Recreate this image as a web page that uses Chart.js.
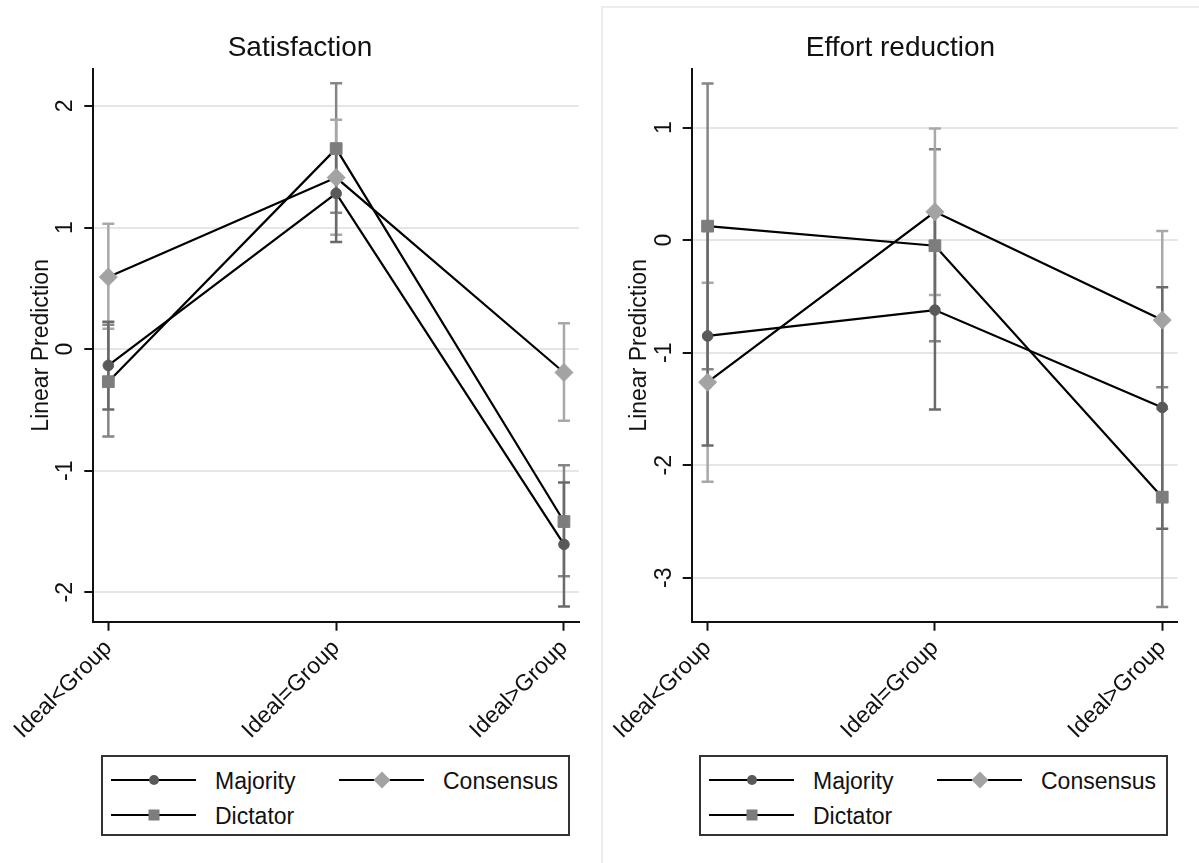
<!DOCTYPE html>
<html>
<head>
<meta charset="utf-8">
<script src="https://cdn.jsdelivr.net/npm/chart.js@4.4.1/dist/chart.umd.min.js"></script>
<style>
  html, body { margin: 0; padding: 0; background: #fff; }
  body { width: 1199px; height: 863px; position: relative; overflow: hidden; font-family: "Liberation Sans", Arial, sans-serif; }
  .panel { position: absolute; top: 0; }
  #leftPanel { left: 0; width: 600px; height: 863px; }
  #rightFrame { position: absolute; left: 601px; top: 6px; width: 640px; height: 900px; border-left: 2px solid #ececec; border-top: 2px solid #ececec; }
  #rightPanel { left: 602px; width: 597px; height: 863px; }
  canvas { position: absolute; left: 0; top: 0; }
  .legend { position: absolute; top: 755px; width: 465px; height: 77px; border: 2px solid #333; background: #fff; }
  .item { position: absolute; height: 30px; }
  .item svg { position: absolute; left: 0; top: 0; }
  .item span { position: absolute; left: 104px; top: 1px; font-size: 23px; color: #111; white-space: nowrap; line-height: 28px; }
</style>
</head>
<body>
<div id="rightFrame"></div>
<div class="panel" id="leftPanel"><canvas id="c1" width="600" height="750"></canvas>
  <div class="legend" id="leg1" style="left:101px;"></div>
</div>
<div class="panel" id="rightPanel"><canvas id="c2" width="597" height="750"></canvas>
  <div class="legend" id="leg2" style="left:97px;"></div>
</div>
<script>
// ---- data ----
const categories = ['Ideal<Group', 'Ideal=Group', 'Ideal>Group'];
const seriesNames = ['Majority', 'Consensus', 'Dictator'];

// Satisfaction panel
const satMajority     = [-0.134, 1.281, -1.606];
const satMajorityLo   = [-0.496, 0.882, -2.117];
const satMajorityHi   = [0.225, 1.680, -1.098];
const satConsensus    = [0.593, 1.411, -0.192];
const satConsensusLo  = [0.167, 0.940, -0.590];
const satConsensusHi  = [1.031, 1.886, 0.213];
const satDictator     = [-0.268, 1.649, -1.418];
const satDictatorLo   = [-0.718, 1.122, -1.868];
const satDictatorHi   = [0.200, 2.187, -0.955];
const satTicks = [-2, -1, 0, 1, 2];

// Effort reduction panel
const effMajority     = [-0.851, -0.621, -1.486];
const effMajorityLo   = [-1.824, -1.505, -2.564];
const effMajorityHi   = [0.120, 0.260, -0.417];
const effConsensus    = [-1.262, 0.253, -0.710];
const effConsensusLo  = [-2.146, -0.486, -1.500];
const effConsensusHi  = [-0.378, 0.993, 0.082];
const effDictator     = [0.125, -0.049, -2.284];
const effDictatorLo   = [-1.147, -0.897, -3.260];
const effDictatorHi   = [1.394, 0.809, -1.308];
const effTicks = [-3, -2, -1, 0, 1];

// ---- styles ----
const FONT = '"Liberation Sans", Arial, sans-serif';
const markerColor = { Majority: '#595959', Consensus: '#a3a3a3', Dictator: '#7d7d7d' };
const barColor    = { Majority: '#6a6a6a', Consensus: '#a8a8a8', Dictator: '#858585' };
const markerStyle = { Majority: 'circle', Consensus: 'rectRot', Dictator: 'rect' };
const markerRadius = { Majority: 5.3, Consensus: 9, Dictator: 8.3 };

function buildDatasets(series) {
  const lines = [];
  const bars = [];
  series.forEach(s => {
    lines.push({
      label: s.name,
      data: s.vals.map((v, i) => ({ x: i, y: v })),
      borderColor: '#000',
      borderWidth: 2.2,
      pointStyle: markerStyle[s.name],
      pointRadius: markerRadius[s.name],
      pointBackgroundColor: markerColor[s.name],
      pointBorderColor: markerColor[s.name],
      pointBorderWidth: 1,
      tension: 0
    });
    const d = [];
    s.lo.forEach((lo, i) => {
      d.push({ x: i, y: lo }, { x: i, y: s.hi[i] }, { x: i, y: null });
    });
    bars.push({
      label: s.name + ' CI',
      data: d,
      borderColor: barColor[s.name],
      borderWidth: 2.5,
      spanGaps: false,
      pointStyle: 'line',
      pointRadius: 6,
      pointBorderWidth: 2.5,
      pointBorderColor: barColor[s.name],
      pointBackgroundColor: barColor[s.name]
    });
  });
  return lines.concat(bars); // lines first => drawn on top
}

function makeChart(id, title, series, yTicks, yMin, yMax, xMin, xMax, yAxisWidth, padRight, plotBottom, canvasH, yTitlePad) {
  const ctx = document.getElementById(id);
  return new Chart(ctx, {
    type: 'line',
    data: { datasets: buildDatasets(series) },
    options: {
      responsive: false,
      animation: false,
      devicePixelRatio: 1,
      layout: { padding: 0 },
      plugins: {
        legend: { display: false },
        tooltip: { enabled: false },
        title: {
          display: true,
          text: title,
          color: '#111',
          font: { family: FONT, size: 28, weight: 'normal' },
          padding: { top: 31, bottom: 4.4 }
        }
      },
      scales: {
        x: {
          type: 'linear',
          min: xMin, max: xMax,
          afterBuildTicks: (sc) => { sc.ticks = categories.map((c, i) => ({ value: i })); },
          afterFit: (sc) => { sc.height = canvasH - plotBottom; sc.paddingLeft = 0; sc.paddingRight = padRight; },
          ticks: {
            autoSkip: false,
            minRotation: 45, maxRotation: 45,
            padding: 4,
            color: '#111',
            font: { family: FONT, size: 23 },
            callback: (v) => categories[v]
          },
          grid: { drawOnChartArea: false, drawTicks: true, tickLength: 9, tickColor: '#111', tickWidth: 2 },
          border: { display: true, color: '#111', width: 2 }
        },
        y: {
          type: 'linear',
          min: yMin, max: yMax,
          afterBuildTicks: (sc) => { sc.ticks = yTicks.map(v => ({ value: v })); },
          afterFit: (sc) => { sc.width = yAxisWidth; sc.paddingTop = 0; sc.paddingBottom = 0; },
          ticks: {
            minRotation: 90, maxRotation: 90,
            crossAlign: 'center',
            padding: 8,
            color: '#111',
            font: { family: FONT, size: 23 },
            callback: (v) => String(v)
          },
          grid: { color: '#e6e6e6', lineWidth: 2, drawTicks: true, tickLength: 9, tickColor: '#111', tickWidth: 2 },
          border: { display: true, color: '#111', width: 2 },
          title: {
            display: true,
            text: 'Linear Prediction',
            color: '#111',
            font: { family: FONT, size: 23 },
            padding: { top: yTitlePad, bottom: 0 }
          }
        }
      }
    }
  });
}

makeChart('c1', 'Satisfaction', [
  { name: 'Majority', vals: satMajority, lo: satMajorityLo, hi: satMajorityHi },
  { name: 'Consensus', vals: satConsensus, lo: satConsensusLo, hi: satConsensusHi },
  { name: 'Dictator', vals: satDictator, lo: satDictatorLo, hi: satDictatorHi }
], satTicks, -2.242, 2.304, -0.066, 2.066, 93.3, 21, 621.7, 750, 28);

makeChart('c2', 'Effort reduction', [
  { name: 'Majority', vals: effMajority, lo: effMajorityLo, hi: effMajorityHi },
  { name: 'Consensus', vals: effConsensus, lo: effConsensusLo, hi: effConsensusHi },
  { name: 'Dictator', vals: effDictator, lo: effDictatorLo, hi: effDictatorHi }
], effTicks, -3.391, 1.522, -0.070, 2.068, 89.7, 21.3, 621.7, 750, 24);

// ---- legends (HTML) ----
function markerSvg(name) {
  const c = markerColor[name];
  let m = '';
  if (name === 'Majority') m = `<circle cx="43" cy="14" r="5" fill="${c}"/>`;
  else if (name === 'Consensus') m = `<polygon points="43,5.5 51.5,14 43,22.5 34.5,14" fill="${c}"/>`;
  else m = `<rect x="37.5" y="8.5" width="11" height="11" fill="${c}"/>`;
  return `<svg width="90" height="28"><line x1="0" y1="14" x2="85" y2="14" stroke="#000" stroke-width="2.2"/>${m}</svg>`;
}
function buildLegend(id) {
  const el = document.getElementById(id);
  const pos = [
    { name: seriesNames[0], left: 8, top: 9 },
    { name: seriesNames[1], left: 236, top: 9 },
    { name: seriesNames[2], left: 8, top: 44 }
  ];
  pos.forEach(p => {
    const d = document.createElement('div');
    d.className = 'item';
    d.style.left = p.left + 'px';
    d.style.top = p.top + 'px';
    d.innerHTML = markerSvg(p.name) + `<span>${p.name}</span>`;
    el.appendChild(d);
  });
}
buildLegend('leg1');
buildLegend('leg2');
</script>
</body>
</html>
